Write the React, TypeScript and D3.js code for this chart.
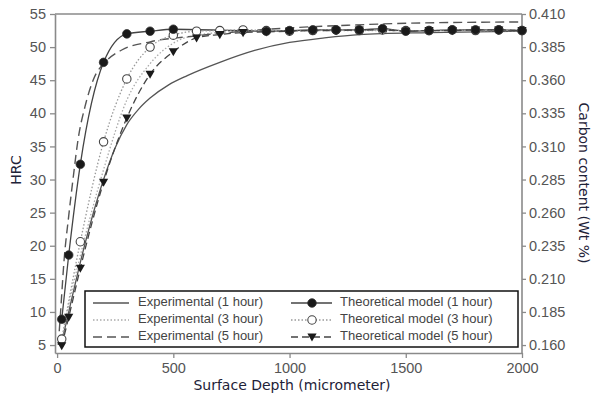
import React, { useEffect, useRef } from 'react';
import * as d3 from 'd3';

const W = 591;
const H = 398;

// axis ticks
const hrcTicks = [5, 10, 15, 20, 25, 30, 35, 40, 45, 50, 55];
const carbonTicks = [0.16, 0.185, 0.21, 0.235, 0.26, 0.285, 0.31, 0.335, 0.36, 0.385, 0.41];
const depthTicks = [0, 500, 1000, 1500, 2000];

// experimental curves, [depth (micrometer), HRC]
const exp1h: [number, number][] = [
  [20, 5.5], [50, 10], [100, 17.5], [200, 30], [250, 34.8], [300, 38.3], [350, 40.6],
  [400, 42.3], [480, 44.3], [560, 45.7], [700, 47.7], [850, 49.5], [1000, 50.7],
  [1150, 51.4], [1300, 51.9], [1600, 52.2], [2000, 52.4],
];
const exp3h: [number, number][] = [
  [20, 5.5], [50, 11], [100, 18.5], [200, 31.5], [300, 42], [400, 47.5], [500, 50.6],
  [600, 51.8], [800, 52.4], [1000, 52.5], [1500, 52.5], [2000, 52.5],
];
const exp5h: [number, number][] = [
  [5, 5], [15, 10], [30, 17.8], [50, 24.5], [70, 30.5], [90, 36], [120, 41], [155, 45],
  [215, 48], [280, 49.6], [400, 50.8], [600, 51.7], [800, 52.4], [1000, 52.9], [1250, 53.3],
  [1500, 53.6], [2000, 53.8],
];

// theoretical model points (null = no marker visible there)
const modelDepths = [20, 50, 100, 200, 300, 400, 500, 600, 700, 800, 900, 1000, 1100, 1200, 1300, 1400, 1500, 1600, 1700, 1800, 1900, 2000];
const model1h = [8.9, 18.6, 32.3, 47.7, 52.0, 52.4, 52.7, null, null, null, 52.4, 52.5, 52.6, 52.6, 52.6, 52.8, 52.4, 52.5, 52.6, 52.6, 52.6, 52.5];
const model3h = [5.9, null, 20.6, 35.7, 45.2, 50.0, 51.8, 52.4, 52.5, 52.6, 52.5, 52.4, 52.5, 52.6, 52.5, 52.6, 52.5, 52.5, 52.6, 52.5, 52.6, 52.5];
const model5h = [4.9, 9.2, 16.6, 29.6, 39.3, 45.9, 49.3, 51.4, 51.9, 52.2, 52.3, 52.4, 52.5, 52.5, 52.6, 52.6, 52.4, 52.5, 52.5, 52.6, 52.6, 52.5];

const expLabels = ['Experimental (1 hour)', 'Experimental (3 hour)', 'Experimental (5 hour)'];
const modelLabels = ['Theoretical model (1 hour)', 'Theoretical model (3 hour)', 'Theoretical model (5 hour)'];

const App: React.FC = () => {
  const svgRef = useRef<SVGSVGElement>(null);

  useEffect(() => {
    const svg = d3.select(svgRef.current);
    svg.selectAll('*').remove();

    const x = d3.scaleLinear().domain([-9, 2000]).range([55, 522]);
    const y = d3.scaleLinear().domain([3.8, 55]).range([353, 14]);
    const yR = d3.scaleLinear().domain([0.16, 0.41]).range([y(5), y(55)]);

    const axisColor = '#8a8a8a';
    const tickFont = '"Liberation Sans", Arial, sans-serif';

    const styleAxis = (g: d3.Selection<SVGGElement, unknown, null, undefined>) => {
      g.select('.domain').attr('stroke', axisColor).attr('stroke-width', 1.6);
      g.selectAll('.tick line').attr('stroke', axisColor).attr('stroke-width', 1.3);
      g.selectAll('.tick text')
        .attr('fill', '#555')
        .style('font-family', tickFont)
        .style('font-size', '14.5px');
    };

    // top border
    svg.append('line')
      .attr('x1', x.range()[0]).attr('x2', x.range()[1])
      .attr('y1', y(55)).attr('y2', y(55))
      .attr('stroke', axisColor).attr('stroke-width', 1.6);

    svg.append('g')
      .attr('transform', `translate(0,${y.range()[0]})`)
      .call(d3.axisBottom(x).tickValues(depthTicks).tickSize(5).tickSizeOuter(0).tickPadding(5).tickFormat(d3.format('d')))
      .call(styleAxis);

    svg.append('g')
      .attr('transform', `translate(${x.range()[0]},0)`)
      .call(d3.axisLeft(y).tickValues(hrcTicks).tickSize(5).tickSizeOuter(0).tickPadding(4))
      .call(styleAxis);

    const right = svg.append('g')
      .attr('transform', `translate(${x.range()[1]},0)`)
      .call(d3.axisRight(yR).tickValues(carbonTicks).tickSize(4).tickSizeOuter(0).tickPadding(3).tickFormat(d3.format('.3f')))
      .call(styleAxis);
    right.select('.domain').attr('d', `M0,${y.range()[0]}V${y.range()[1]}`);

    // axis titles
    const titleFont = '"DejaVu Sans", Verdana, sans-serif';
    svg.append('text')
      .attr('transform', `translate(17,170) rotate(-90)`)
      .attr('text-anchor', 'middle').attr('dominant-baseline', 'middle')
      .style('font-family', titleFont).style('font-size', '14px').attr('fill', '#1e2238')
      .text('HRC');
    svg.append('text')
      .attr('transform', `translate(583,183) rotate(90)`)
      .attr('text-anchor', 'middle').attr('dominant-baseline', 'middle')
      .style('font-family', titleFont).style('font-size', '14px').attr('fill', '#1e2238')
      .text('Carbon content (Wt %)');
    svg.append('text')
      .attr('x', 292).attr('y', 386)
      .attr('text-anchor', 'middle').attr('dominant-baseline', 'middle')
      .style('font-family', titleFont).style('font-size', '14px').attr('fill', '#1e2238')
      .text('Surface Depth (micrometer)');

    const line = d3.line<[number, number]>()
      .x(d => x(d[0]))
      .y(d => y(d[1]))
      .curve(d3.curveMonotoneX);

    const lineColor = '#555';

    // experimental curves
    const expSeries = [
      { data: exp1h, dash: null, color: lineColor, width: 1.3 },
      { data: exp3h, dash: '1.5,2', color: '#aaa', width: 1.3 },
      { data: exp5h, dash: '9,5', color: lineColor, width: 1.4 },
    ];
    expSeries.forEach(s => {
      svg.append('path')
        .datum(s.data)
        .attr('d', line)
        .attr('fill', 'none')
        .attr('stroke', s.color)
        .attr('stroke-width', s.width)
        .attr('stroke-dasharray', s.dash);
    });

    // model curves
    const toPts = (vals: (number | null)[]) =>
      modelDepths.map((d, i) => [d, vals[i]] as [number, number | null])
        .filter(p => p[1] != null) as [number, number][];

    const modelSeries = [
      { pts: toPts(model1h), dash: null, color: '#444', marker: 'filled' },
      { pts: toPts(model3h), dash: '1.5,2', color: '#999', marker: 'open' },
      { pts: toPts(model5h), dash: '7,4', color: '#444', marker: 'tri' },
    ];

    const drawMarker = (g: d3.Selection<any, unknown, null, undefined>, kind: string, cx: number, cy: number) => {
      if (kind === 'filled') {
        g.append('circle').attr('cx', cx).attr('cy', cy).attr('r', 4.3)
          .attr('fill', '#1a1a1a').attr('stroke', '#333').attr('stroke-width', 0.8);
      } else if (kind === 'open') {
        g.append('circle').attr('cx', cx).attr('cy', cy).attr('r', 4.2)
          .attr('fill', '#fff').attr('stroke', '#444').attr('stroke-width', 1.1);
      } else {
        const s = 4.6;
        g.append('path')
          .attr('d', `M${cx - s},${cy - s * 0.75}L${cx + s},${cy - s * 0.75}L${cx},${cy + s}Z`)
          .attr('fill', '#1a1a1a');
      }
    };

    modelSeries.forEach(s => {
      svg.append('path')
        .datum(s.pts)
        .attr('d', line)
        .attr('fill', 'none')
        .attr('stroke', s.color)
        .attr('stroke-width', 1.3)
        .attr('stroke-dasharray', s.dash);
    });
    // markers drawn after all lines: open, triangles, then filled on top
    [modelSeries[1], modelSeries[2], modelSeries[0]].forEach(s => {
      const g = svg.append('g');
      s.pts.forEach(p => drawMarker(g, s.marker, x(p[0]), y(p[1])));
    });

    // legend
    const lg = svg.append('g');
    lg.append('rect')
      .attr('x', 85).attr('y', 291).attr('width', 433).attr('height', 56)
      .attr('fill', '#fff').attr('stroke', '#111').attr('stroke-width', 1.5);

    const rowY = [303, 320, 337];
    const legendFont = '"Liberation Sans", Arial, sans-serif';
    expSeries.forEach((s, i) => {
      lg.append('line')
        .attr('x1', 93).attr('x2', 129).attr('y1', rowY[i]).attr('y2', rowY[i])
        .attr('stroke', s.color).attr('stroke-width', 1.3)
        .attr('stroke-dasharray', s.dash);
      lg.append('text')
        .attr('x', 138).attr('y', rowY[i]).attr('dominant-baseline', 'middle')
        .style('font-family', legendFont).style('font-size', '13px').attr('fill', '#444')
        .text(expLabels[i]);
    });
    modelSeries.forEach((s, i) => {
      lg.append('line')
        .attr('x1', 291).attr('x2', 332).attr('y1', rowY[i]).attr('y2', rowY[i])
        .attr('stroke', s.color).attr('stroke-width', 1.3)
        .attr('stroke-dasharray', s.dash);
      drawMarker(lg, s.marker, 312, rowY[i]);
      lg.append('text')
        .attr('x', 340).attr('y', rowY[i]).attr('dominant-baseline', 'middle')
        .style('font-family', legendFont).style('font-size', '13px').attr('fill', '#444')
        .text(modelLabels[i]);
    });
  }, []);

  return (
    <div style={{ position: 'absolute', left: 0, top: 0, width: W, height: H, background: '#fff' }}>
      <svg ref={svgRef} width={W} height={H}></svg>
    </div>
  );
};

export default App;
